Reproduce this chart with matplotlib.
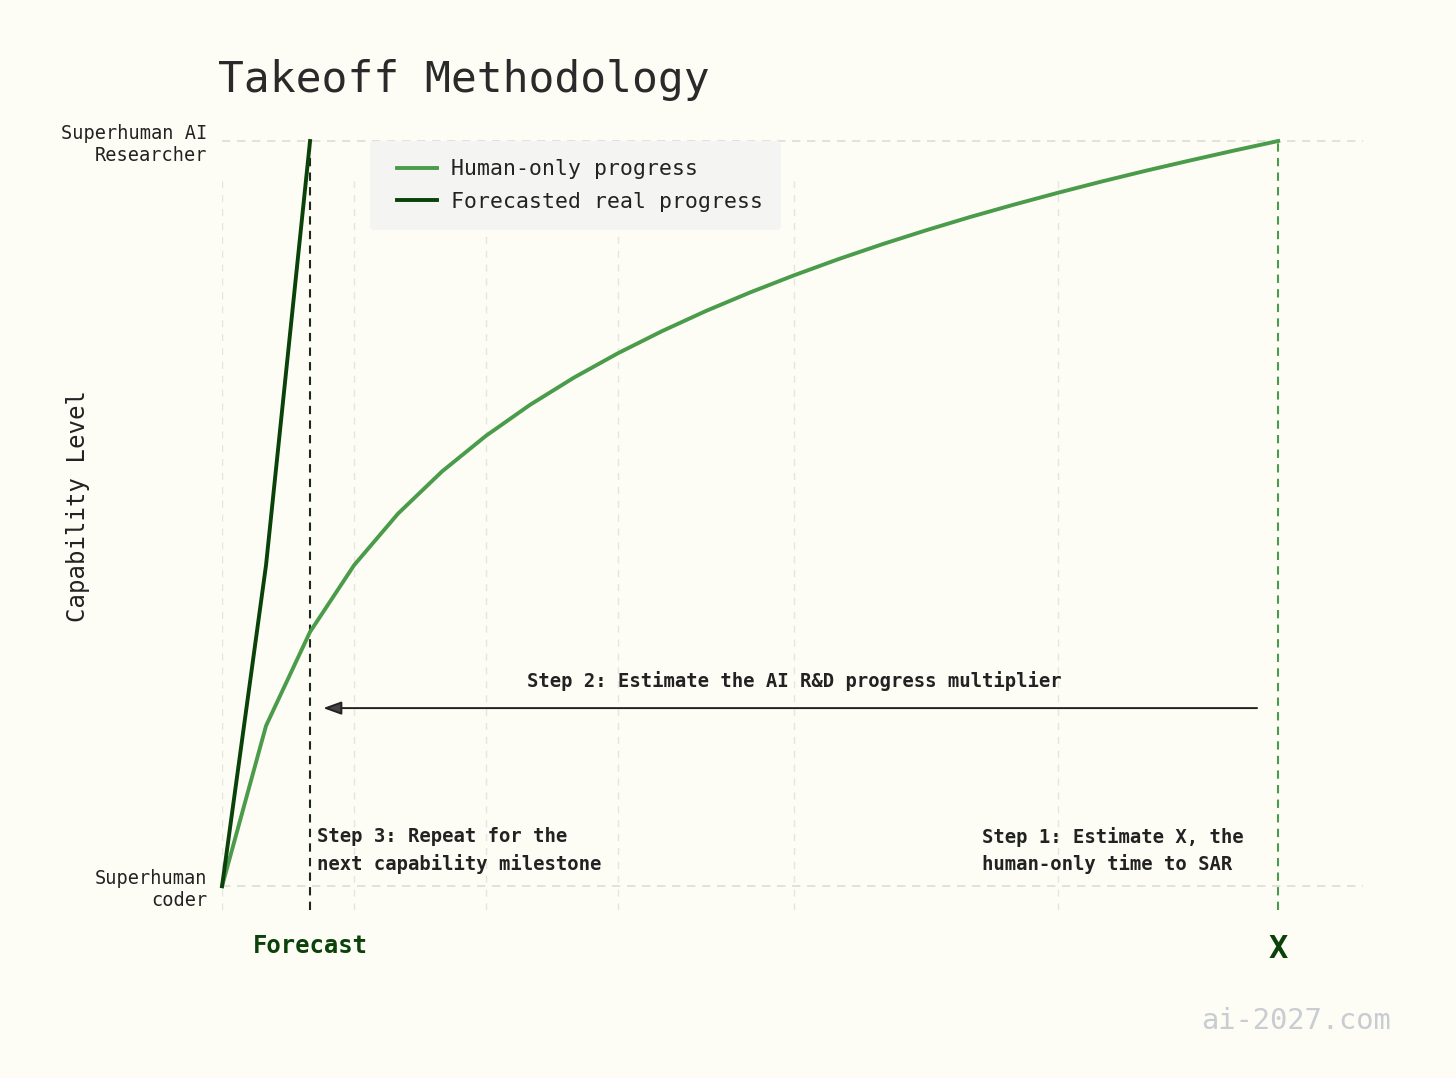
import matplotlib.pyplot as plt
from matplotlib.lines import Line2D
from matplotlib.legend_handler import HandlerLine2D

# data
months = list(range(25))
human_only = [0.0, 0.2153, 0.3413, 0.4307, 0.5000, 0.5566, 0.6045, 0.6460,
              0.6826, 0.7153, 0.7449, 0.7720, 0.7968, 0.8198, 0.8413, 0.8614,
              0.8802, 0.8980, 0.9147, 0.9306, 0.9458, 0.9602, 0.9739, 0.9872,
              1.0]
forecast_x = [0, 1, 2]
forecast_y = [0.0, 0.431, 1.0]

forecast_at = 2
x_at = 24
grid_x = [0, 3, 6, 9, 13, 19]
y_ticks = [0, 1]
y_labels = ['Superhuman\ncoder', 'Superhuman AI\nResearcher']
x_ticks = [forecast_at, x_at]
x_labels = ['Forecast', 'X']

BG = '#fdfdf6'
GREEN = '#4a9b4a'
DARK = '#0a420a'
MONO = 'DejaVu Sans Mono'

plt.rcParams['font.family'] = MONO

fig = plt.figure(figsize=(14.56, 10.78), dpi=100, facecolor=BG)
ax = fig.add_axes([0.1525, 0.1558, 0.7834, 0.7134], facecolor=BG)

ymin = -0.032
ax.set_xlim(0, 25.92)
ax.set_ylim(ymin, 1.0)

# grid, drawn by hand so the lengths match
ax.vlines(grid_x, ymin, 0.955, colors='#e4e4e0', linestyles=(0, (5, 5)), lw=1, zorder=0)
for yv in y_ticks:
    ax.axhline(yv, color='#dcdcd8', ls=(0, (5, 4)), lw=1.2, zorder=0, clip_on=False)

ax.plot(months, human_only, color=GREEN, lw=2.8, label='Human-only progress', zorder=3,
        clip_on=False)
ax.plot(forecast_x, forecast_y, color=DARK, lw=2.8, label='Forecasted real progress',
        zorder=4, clip_on=False)

ax.vlines(forecast_at, ymin, 1.0, colors='#1a2a1a', linestyles=(0, (4, 3)), lw=1.5, zorder=2)
ax.vlines(x_at, ymin, 1.0, colors=GREEN, linestyles=(0, (4, 3)), lw=1.5, zorder=2)

# step 2 arrow
ax.annotate('', xy=(2.3, 0.239), xytext=(23.52, 0.239),
            arrowprops=dict(arrowstyle='-|>,head_length=1.1,head_width=0.4',
                            color='#222222', fc='#444444', lw=1.4,
                            shrinkA=0, shrinkB=0))
ax.text(13.0, 0.275, 'Step 2: Estimate the AI R&D progress multiplier',
        ha='center', va='center', fontsize=13.6, fontweight='bold', color='#222222')
ax.text(2.16, 0.048, 'Step 3: Repeat for the\nnext capability milestone',
        ha='left', va='center', fontsize=13.6, fontweight='bold', color='#222222',
        linespacing=1.45)
ax.text(17.27, 0.048, 'Step 1: Estimate X, the\nhuman-only time to SAR',
        ha='left', va='center', fontsize=13.6, fontweight='bold', color='#222222',
        linespacing=1.45)

ax.set_yticks(y_ticks)
ax.set_yticklabels(y_labels, fontsize=13.4, color='#222222')
ax.set_xticks(x_ticks)
ax.set_xticklabels(x_labels, fontweight='bold', color=DARK)
xt = ax.get_xticklabels()
xt[0].set_fontsize(17.2)
xt[1].set_fontsize(23)
ax.tick_params(axis='y', length=0, pad=10.5)
ax.tick_params(axis='x', length=0, pad=17)
for s in ax.spines.values():
    s.set_visible(False)

ax.set_ylabel('Capability Level', fontsize=17.3, color='#222222')
ax.yaxis.set_label_coords(-0.116, 0.525)

leg = ax.legend(loc='upper left', bbox_to_anchor=(0.13, 1.0), borderaxespad=0,
                fontsize=15.5, frameon=True, facecolor='#f4f5f3', edgecolor='none',
                framealpha=1, fancybox=True, handlelength=2.23, handletextpad=0.65,
                borderpad=0.85, labelspacing=0.59,
                handler_map={Line2D: HandlerLine2D(xpad=0.37)})
for t in leg.get_texts():
    t.set_color('#222222')

fig.text(218 / 1456, 1 - 80 / 1078, 'Takeoff Methodology', ha='left', va='center',
         fontsize=31, color='#2a2a2a')
fig.text(1391 / 1456, 1 - 1021 / 1078, 'ai-2027.com', ha='right', va='center',
         fontsize=20.7, color='#c9ccd0')

fig.savefig('out.png', dpi=100, facecolor=BG)
